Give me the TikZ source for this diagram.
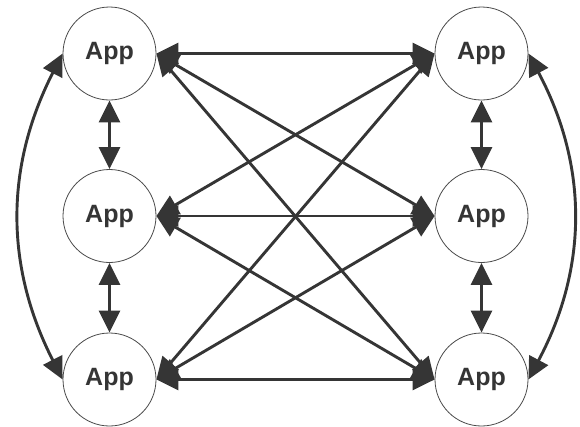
\documentclass[tikz,border=0pt]{standalone}
\usepackage{fontspec}
\setmainfont{Liberation Sans}
\usetikzlibrary{arrows.meta}

\definecolor{linkgray}{HTML}{353535}
\definecolor{ringgray}{HTML}{4A4A4A}

\tikzset{
  app/.style={circle, draw=ringgray, line width=0.8pt, fill=white,
    minimum size=93pt, inner sep=0pt, font=\fontsize{25}{29}\selectfont\bfseries,
    text=linkgray},
  link/.style={draw=linkgray, line width=2.9pt,
    {Triangle[length=22pt,width=21pt]}-{Triangle[length=22pt,width=21pt]}},
}

\begin{document}
\begin{tikzpicture}[x=1pt,y=-1pt]
  \useasboundingbox (0,0) rectangle (580,426);

  % left column
  \node[app] (l1) at (109.5,53.5) {App};
  \node[app] (l2) at (109.5,216) {App};
  \node[app] (l3) at (109.5,379.5) {App};
  % right column
  \node[app] (r1) at (481.5,53.5) {App};
  \node[app] (r2) at (481.5,216) {App};
  \node[app] (r3) at (481.5,379.5) {App};

  % neighbours in a column
  \draw[link] (l1) -- (l2);
  \draw[link] (l2) -- (l3);
  \draw[link] (r1) -- (r2);
  \draw[link] (r2) -- (r3);

  % outer arcs
  \draw[link] (l1.west) to[bend right=27] (l3.west);
  \draw[link] (r1.east) to[bend left=28] (r3.east);

  % every left app to every right app
  \foreach \a in {l1,l2,l3}
    \foreach \b in {r1,r2,r3}
      \draw[link] (\a.east) -- (\b.west);
\end{tikzpicture}
\end{document}
